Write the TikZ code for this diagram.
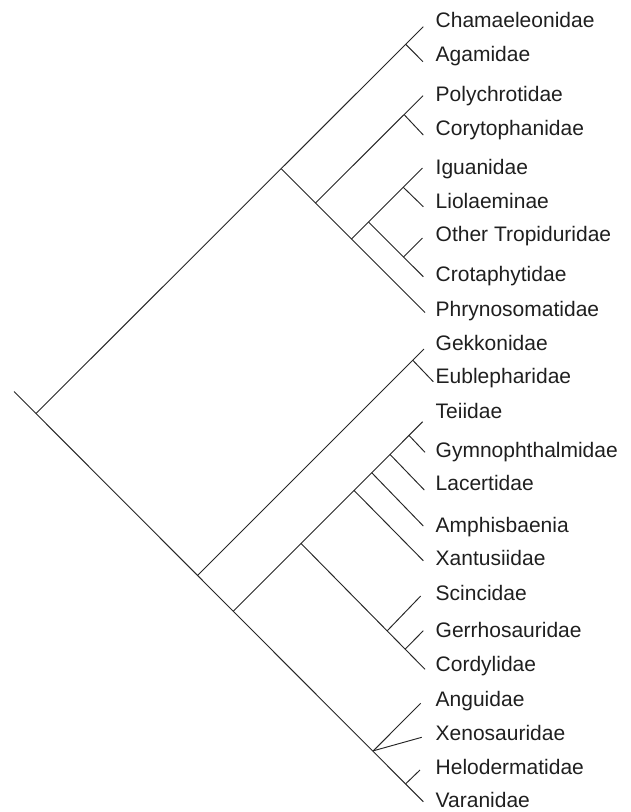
\documentclass[tikz,border=0pt]{standalone}
\usepackage{fontspec}
\setmainfont{Liberation Sans}
\begin{document}
\begin{tikzpicture}[x=1pt,y=-1pt,
  branch/.style={draw=black!85,line width=0.95pt},
  taxon/.style={anchor=base west,inner sep=0pt,font=\fontsize{21}{24}\selectfont,text=black!88}]
\useasboundingbox (0,0) rectangle (630,812);

% leaf tips
\coordinate (t1) at (423.3,26.7);
\coordinate (t2) at (423,61.7);
\coordinate (t3) at (423,95.7);
\coordinate (t4) at (423.3,135);
\coordinate (t5) at (422.5,168);
\coordinate (t6) at (423.3,206.7);
\coordinate (t7) at (422.5,238);
\coordinate (t8) at (423.3,276.7);
\coordinate (t9) at (425,312.5);
\coordinate (t10) at (424,349);
\coordinate (t11) at (433.3,381.7);
\coordinate (t12) at (422.7,421.7);
\coordinate (t13) at (425,452.3);
\coordinate (t14) at (424.3,490);
\coordinate (t15) at (423.3,526);
\coordinate (t16) at (423.3,560.7);
\coordinate (t17) at (420.7,596);
\coordinate (t18) at (423.3,630.7);
\coordinate (t19) at (425,669.3);
\coordinate (t20) at (420.7,703.3);
\coordinate (t21) at (421.7,737.3);
\coordinate (t22) at (420,770);
\coordinate (t23) at (423.3,801.7);

% internal nodes
\coordinate (stem) at (14,391.5);
\coordinate (root) at (36,413.5);
\coordinate (iguania) at (281.25,168.75);
\coordinate (chamaga) at (405.7,44.3);
\coordinate (pleuro) at (315.5,203);
\coordinate (polycory) at (404,114.5);
\coordinate (igphry) at (351.5,239);
\coordinate (igcrot) at (368.5,222);
\coordinate (igliol) at (403.25,187.25);
\coordinate (tropcrot) at (403.5,257);
\coordinate (gekkota) at (197.75,575.25);
\coordinate (gekeub) at (412.75,360.25);
\coordinate (autarch) at (233.5,611);
\coordinate (scincoid) at (301,543.4);
\coordinate (xantus) at (354,490.4);
\coordinate (amphis) at (371.7,472.7);
\coordinate (lacert) at (390,454.4);
\coordinate (teigym) at (409,435.4);
\coordinate (scingerr) at (387.3,630.7);
\coordinate (gerrcord) at (405,649.3);
\coordinate (anguimorph) at (373.3,750.8);
\coordinate (helovar) at (406,783.5);

% branches
\draw[branch] (stem) -- (t23);
\draw[branch] (root) -- (t1);
\draw[branch] (iguania) -- (t9);
\draw[branch] (chamaga) -- (t2);
\draw[branch] (pleuro) -- (t3);
\draw[branch] (polycory) -- (t4);
\draw[branch] (igphry) -- (t5);
\draw[branch] (igcrot) -- (t8);
\draw[branch] (igliol) -- (t6);
\draw[branch] (tropcrot) -- (t7);
\draw[branch] (gekkota) -- (t10);
\draw[branch] (gekeub) -- (t11);
\draw[branch] (autarch) -- (t12);
\draw[branch] (scincoid) -- (t19);
\draw[branch] (scingerr) -- (t17);
\draw[branch] (gerrcord) -- (t18);
\draw[branch] (xantus) -- (t16);
\draw[branch] (amphis) -- (t15);
\draw[branch] (lacert) -- (t14);
\draw[branch] (teigym) -- (t13);
\draw[branch] (anguimorph) -- (t20);
\draw[branch] (anguimorph) -- (t21);
\draw[branch] (helovar) -- (t22);

% taxon names
\node[taxon] (l1) at (435.5,27.3) {Chamaeleonidae};
\node[taxon] (l2) at (435.5,61) {Agamidae};
\node[taxon] (l3) at (435.5,101) {Polychrotidae};
\node[taxon] (l4) at (435.5,135) {Corytophanidae};
\node[taxon] (l5) at (435.5,174) {Iguanidae};
\node[taxon] (l6) at (435.5,208) {Liolaeminae};
\node[taxon] (l7) at (435.5,241.7) {Other Tropiduridae};
\node[taxon] (l8) at (435.5,281.7) {Crotaphytidae};
\node[taxon] (l9) at (435.5,316) {Phrynosomatidae};
\node[taxon] (l10) at (435.5,350) {Gekkonidae};
\node[taxon] (l11) at (435.5,383) {Eublepharidae};
\node[taxon] (l12) at (435.5,418) {Teiidae};
\node[taxon] (l13) at (435.5,457) {Gymnophthalmidae};
\node[taxon] (l14) at (435.5,490.7) {Lacertidae};
\node[taxon] (l15) at (435.5,532) {Amphisbaenia};
\node[taxon] (l16) at (435.5,565.7) {Xantusiidae};
\node[taxon] (l17) at (435.5,600) {Scincidae};
\node[taxon] (l18) at (435.5,637.7) {Gerrhosauridae};
\node[taxon] (l19) at (435.5,671.7) {Cordylidae};
\node[taxon] (l20) at (435.5,706) {Anguidae};
\node[taxon] (l21) at (435.5,740) {Xenosauridae};
\node[taxon] (l22) at (435.5,774) {Helodermatidae};
\node[taxon] (l23) at (435.5,807.3) {Varanidae};
\end{tikzpicture}
\end{document}
